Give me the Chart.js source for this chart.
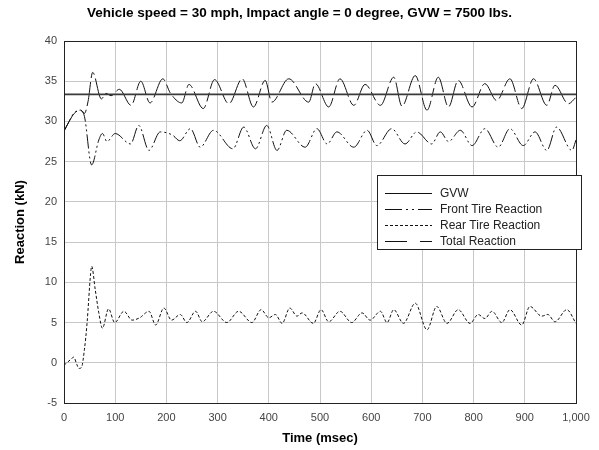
<!DOCTYPE html>
<html>
<head>
<meta charset="utf-8">
<title>Reaction vs time</title>
<script src="https://cdn.jsdelivr.net/npm/chart.js"></script>
<style>
  body { margin: 0; background: #fff; }
  #wrap { width: 599px; height: 450px; }
</style>
</head>
<body>
<div id="wrap"><canvas id="reactionChart" width="599" height="450"></canvas></div>
<script>
'use strict';

// valeurs (msec, kN)
var gvwTime = [0, 1000];
var gvwKn = [33.36, 33.36];

var totalTime = [0, 10, 20, 32, 40, 47, 56, 73, 82, 92, 108, 131, 150, 168, 193, 208, 230, 244, 272, 294,
  322, 348, 370, 393, 406, 439, 478, 491, 517, 539, 566, 588, 618, 644, 660, 686, 709, 731, 751, 770,
  797, 822, 845, 871, 894, 917, 943, 959, 985, 1000];
var totalKn = [28.8, 30.0, 31.0, 31.4, 31.0, 32.5, 36.1, 32.8, 33.5, 33.2, 34.0, 32.0, 35.0, 32.3, 35.3, 33.5, 32.3, 34.6, 31.6, 35.2,
  32.2, 35.3, 31.8, 35.1, 32.4, 35.3, 32.4, 34.7, 31.8, 35.3, 32.0, 34.6, 32.0, 35.5, 31.9, 35.7, 31.4, 35.5, 31.8, 35.1,
  31.8, 34.7, 32.6, 35.3, 31.6, 35.3, 32.0, 34.5, 32.2, 33.0];

var frontTime = [0, 10, 19, 32, 40, 54, 68, 75, 84, 100, 130, 146, 166, 188, 212, 226, 247, 266, 292, 330,
  351, 374, 396, 416, 435, 471, 494, 514, 533, 566, 592, 611, 640, 666, 689, 718, 735, 751, 774, 797,
  822, 848, 871, 897, 920, 943, 962, 992, 1000];
var frontKn = [28.8, 30.0, 31.0, 31.4, 30.6, 24.6, 27.7, 28.5, 27.5, 28.5, 27.2, 29.5, 26.4, 28.7, 28.3, 27.6, 29.1, 26.8, 28.9, 26.6,
  29.3, 26.6, 29.5, 26.4, 28.9, 26.8, 29.1, 27.2, 28.7, 26.8, 28.9, 27.0, 29.1, 27.2, 28.7, 27.2, 28.7, 27.5, 28.9, 27.0,
  29.1, 26.8, 29.1, 27.0, 28.7, 26.4, 29.3, 26.4, 27.7];

var rearTime = [0, 13, 19, 25, 29, 34, 40, 45, 52, 54, 61, 68, 75, 87, 99, 117, 133, 148, 166, 179,
  195, 210, 227, 240, 257, 270, 292, 318, 341, 367, 385, 400, 413, 426, 441, 455, 465, 487, 502, 517,
  539, 562, 582, 598, 618, 631, 644, 663, 686, 709, 728, 748, 770, 793, 809, 822, 836, 855, 871, 894,
  910, 933, 945, 959, 982, 1000];
var rearKn = [-0.3, 0.4, 0.7, -0.2, -0.7, -0.6, 1.7, 4.9, 11.1, 12.0, 9.1, 6.2, 4.3, 6.7, 5.0, 6.4, 5.3, 5.6, 6.4, 4.7,
  6.8, 5.3, 6.0, 5.0, 6.4, 5.1, 6.4, 5.0, 6.4, 5.0, 6.6, 5.6, 6.0, 4.9, 6.8, 5.8, 6.2, 4.9, 6.6, 5.1,
  6.4, 5.0, 6.2, 5.3, 6.4, 5.0, 6.6, 4.9, 7.4, 4.1, 7.0, 4.9, 6.6, 4.9, 6.0, 5.5, 6.4, 5.0, 6.6, 4.7,
  7.0, 5.8, 6.0, 5.1, 6.6, 4.9];

var seriesNames = ['GVW', 'Front Tire Reaction', 'Rear Tire Reaction', 'Total Reaction'];
var xTicks = [0, 100, 200, 300, 400, 500, 600, 700, 800, 900, 1000];

var FONT = "'Liberation Sans', Arial, sans-serif";

function toPoints(times, values) {
  return times.map(function (t, i) {
    return { x: t, y: values[i] };
  });
}

// cadre noir autour de la zone de tracé
var frameBorder = {
  id: 'frameBorder',
  afterDatasetsDraw: function (chart) {
    var a = chart.chartArea;
    var ctx = chart.ctx;
    ctx.save();
    ctx.strokeStyle = '#222';
    ctx.lineWidth = 1;
    ctx.strokeRect(Math.round(a.left) + 0.5, Math.round(a.top) + 0.5,
      Math.round(a.right - a.left), Math.round(a.bottom - a.top));
    ctx.restore();
  }
};

// légende dans un cadre, comme Excel
var legendBox = {
  id: 'legendBox',
  afterDraw: function (chart) {
    var ctx = chart.ctx;
    var box = { x: 377.5, y: 175.5, w: 204, h: 74 };
    var dashes = [[], [17, 4, 2, 4, 2, 4], [3, 2], [22, 13, 12, 13]];
    ctx.save();
    ctx.fillStyle = '#fff';
    ctx.fillRect(box.x, box.y, box.w, box.h);
    ctx.strokeStyle = '#222';
    ctx.lineWidth = 1;
    ctx.strokeRect(box.x, box.y, box.w, box.h);
    ctx.font = '12px ' + FONT;
    ctx.textBaseline = 'middle';
    ctx.fillStyle = '#222';
    seriesNames.forEach(function (name, i) {
      var y = 193.5 + i * 16;
      ctx.beginPath();
      ctx.setLineDash(dashes[i]);
      ctx.lineWidth = 1;
      ctx.strokeStyle = '#111';
      ctx.moveTo(385, y);
      ctx.lineTo(432, y);
      ctx.stroke();
      ctx.setLineDash([]);
      ctx.fillText(name, 440, y);
    });
    ctx.restore();
  }
};

var ctx = document.getElementById('reactionChart').getContext('2d');

var reactionChart = new Chart(ctx, {
  type: 'line',
  data: {
    datasets: [
      {
        label: seriesNames[0],
        data: toPoints(gvwTime, gvwKn),
        borderColor: '#3a3a3a',
        borderWidth: 1.6,
        pointRadius: 0
      },
      {
        label: seriesNames[1],
        data: toPoints(frontTime, frontKn),
        borderColor: '#111',
        borderWidth: 1,
        borderDash: [14, 3, 2, 3, 2, 3],
        pointRadius: 0,
        cubicInterpolationMode: 'monotone'
      },
      {
        label: seriesNames[2],
        data: toPoints(rearTime, rearKn),
        borderColor: '#111',
        borderWidth: 1,
        borderDash: [3, 2],
        pointRadius: 0,
        cubicInterpolationMode: 'monotone'
      },
      {
        label: seriesNames[3],
        data: toPoints(totalTime, totalKn),
        borderColor: '#111',
        borderWidth: 1,
        borderDash: [24, 4, 9, 4],
        pointRadius: 0,
        cubicInterpolationMode: 'monotone'
      }
    ]
  },
  options: {
    responsive: false,
    animation: false,
    layout: { padding: 0 },
    plugins: {
      legend: { display: false },
      tooltip: { enabled: false },
      title: {
        display: true,
        text: 'Vehicle speed = 30 mph, Impact angle = 0 degree, GVW = 7500 lbs.',
        color: '#000',
        font: { family: FONT, size: 13.5, weight: 'bold', lineHeight: 1.2 },
        padding: { top: 5, bottom: 19.8 }
      }
    },
    scales: {
      x: {
        type: 'linear',
        min: 0,
        max: 1000,
        afterBuildTicks: function (scale) {
          scale.ticks = xTicks.map(function (v) { return { value: v }; });
        },
        afterFit: function (scale) {
          // marge droite de 23 px sans décaler le titre
          scale.height = 47;
          scale.paddingLeft = 0;
          scale.paddingRight = 23;
        },
        grid: { color: '#c8c8c8', lineWidth: 1, drawTicks: false },
        border: { display: false },
        ticks: {
          color: '#444',
          padding: 8,
          maxRotation: 0,
          font: { family: FONT, size: 11 },
          callback: function (v) { return v.toLocaleString('en-US'); }
        },
        title: {
          display: true,
          text: 'Time (msec)',
          color: '#000',
          font: { family: FONT, size: 13, weight: 'bold', lineHeight: 1.2 },
          padding: { top: 4, bottom: 4 }
        }
      },
      y: {
        type: 'linear',
        min: -5,
        max: 40,
        afterFit: function (scale) {
          scale.width = 64;
          scale.paddingTop = 0;
          scale.paddingBottom = 0;
        },
        grid: { color: '#c8c8c8', lineWidth: 1, drawTicks: false },
        border: { display: false },
        ticks: {
          stepSize: 5,
          color: '#444',
          padding: 7,
          font: { family: FONT, size: 11 }
        },
        title: {
          display: true,
          text: 'Reaction (kN)',
          color: '#000',
          font: { family: FONT, size: 13, weight: 'bold', lineHeight: 1.2 },
          padding: { top: 13, bottom: 13 }
        }
      }
    }
  },
  plugins: [frameBorder, legendBox]
});
</script>
</body>
</html>
